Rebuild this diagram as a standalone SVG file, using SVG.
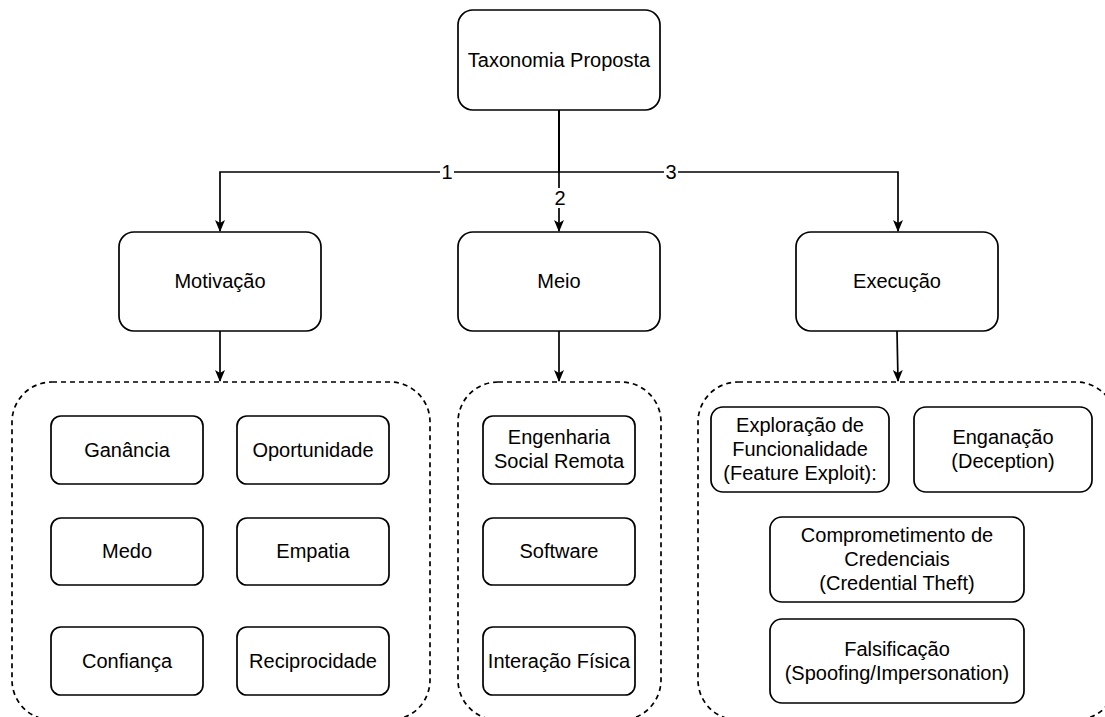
<svg xmlns="http://www.w3.org/2000/svg" width="1105" height="717" viewBox="0 0 1105 717">
  <style>
    .box { fill: #ffffff; stroke: #000000; stroke-width: 1.7; }
    .group { fill: none; stroke: #000000; stroke-width: 1.7; stroke-dasharray: 5 4; }
    .edge { fill: none; stroke: #000000; stroke-width: 1.7; }
    text { font-family: "Liberation Sans", Arial, sans-serif; font-size: 20px; fill: #000000; text-anchor: middle; }
    .lbl { fill: #ffffff; }
  </style>
  <defs>
    <marker id="arrow" viewBox="0 0 12 12" refX="11" refY="6" markerWidth="12" markerHeight="12" markerUnits="userSpaceOnUse" orient="auto">
      <path d="M0,1 L12,6 L0,11 L3,6 Z" fill="#000000"/>
    </marker>
  </defs>

  <!-- dashed groupings -->
  <g id="grupo-motivacao">
    <rect class="group" x="12" y="382" width="418" height="338" rx="40" ry="40"/>
  </g>
  <g id="grupo-meio">
    <rect class="group" x="458" y="382" width="203" height="338" rx="40" ry="40"/>
  </g>
  <g id="grupo-execucao">
    <rect class="group" x="698" y="382" width="418" height="338" rx="40" ry="40"/>
  </g>

  <!-- connectors -->
  <g id="connectors">
    <path class="edge" d="M559,110 V172 H220 V231" marker-end="url(#arrow)"/>
    <path class="edge" d="M559,110 V231" marker-end="url(#arrow)"/>
    <path class="edge" d="M559,110 V172 H898 V231" marker-end="url(#arrow)"/>
    <path class="edge" d="M220,331 V381" marker-end="url(#arrow)"/>
    <path class="edge" d="M559,331 V381" marker-end="url(#arrow)"/>
    <path class="edge" d="M897,331 L898,381" marker-end="url(#arrow)"/>
    <rect class="lbl" x="440" y="162" width="14" height="20"/>
    <text x="447" y="179">1</text>
    <rect class="lbl" x="553" y="188" width="14" height="20"/>
    <text x="560" y="205">2</text>
    <rect class="lbl" x="664" y="162" width="14" height="20"/>
    <text x="671" y="179">3</text>
  </g>

  <!-- top level -->
  <g id="taxonomia">
    <rect class="box" x="458" y="10" width="202" height="100" rx="15" ry="15"/>
    <text x="559" y="67">Taxonomia Proposta</text>
  </g>
  <g id="motivacao">
    <rect class="box" x="119" y="232" width="202" height="99" rx="15" ry="15"/>
    <text x="220" y="288">Motivação</text>
  </g>
  <g id="meio">
    <rect class="box" x="458" y="232" width="202" height="99" rx="15" ry="15"/>
    <text x="559" y="288">Meio</text>
  </g>
  <g id="execucao">
    <rect class="box" x="796" y="232" width="202" height="99" rx="15" ry="15"/>
    <text x="897" y="288">Execução</text>
  </g>

  <!-- motivação items -->
  <g id="ganancia">
    <rect class="box" x="51" y="416" width="152" height="68" rx="10" ry="10"/>
    <text x="127" y="457">Ganância</text>
  </g>
  <g id="oportunidade">
    <rect class="box" x="237" y="416" width="152" height="68" rx="10" ry="10"/>
    <text x="313" y="457">Oportunidade</text>
  </g>
  <g id="medo">
    <rect class="box" x="51" y="518" width="152" height="67" rx="10" ry="10"/>
    <text x="127" y="558">Medo</text>
  </g>
  <g id="empatia">
    <rect class="box" x="237" y="518" width="152" height="67" rx="10" ry="10"/>
    <text x="313" y="558">Empatia</text>
  </g>
  <g id="confianca">
    <rect class="box" x="51" y="627" width="152" height="68" rx="10" ry="10"/>
    <text x="127" y="668">Confiança</text>
  </g>
  <g id="reciprocidade">
    <rect class="box" x="237" y="627" width="152" height="68" rx="10" ry="10"/>
    <text x="313" y="668">Reciprocidade</text>
  </g>

  <!-- meio items -->
  <g id="engenharia-social-remota">
    <rect class="box" x="483" y="416" width="152" height="68" rx="10" ry="10"/>
    <text x="559" y="444">Engenharia</text>
    <text x="559" y="468">Social Remota</text>
  </g>
  <g id="software">
    <rect class="box" x="483" y="518" width="152" height="67" rx="10" ry="10"/>
    <text x="559" y="558">Software</text>
  </g>
  <g id="interacao-fisica">
    <rect class="box" x="483" y="627" width="152" height="68" rx="10" ry="10"/>
    <text x="559" y="668">Interação Física</text>
  </g>

  <!-- execução items -->
  <g id="exploracao-funcionalidade">
    <rect class="box" x="711" y="407" width="178" height="85" rx="12" ry="12"/>
    <text x="800" y="432">Exploração de</text>
    <text x="800" y="456">Funcionalidade</text>
    <text x="800" y="480">(Feature Exploit):</text>
  </g>
  <g id="enganacao">
    <rect class="box" x="914" y="407" width="178" height="85" rx="12" ry="12"/>
    <text x="1003" y="444">Enganação</text>
    <text x="1003" y="468">(Deception)</text>
  </g>
  <g id="comprometimento-credenciais">
    <rect class="box" x="770" y="517" width="254" height="85" rx="12" ry="12"/>
    <text x="897" y="542">Comprometimento de</text>
    <text x="897" y="566">Credenciais</text>
    <text x="897" y="590">(Credential Theft)</text>
  </g>
  <g id="falsificacao">
    <rect class="box" x="770" y="619" width="254" height="84" rx="12" ry="12"/>
    <text x="897" y="656">Falsificação</text>
    <text x="897" y="680">(Spoofing/Impersonation)</text>
  </g>
</svg>
